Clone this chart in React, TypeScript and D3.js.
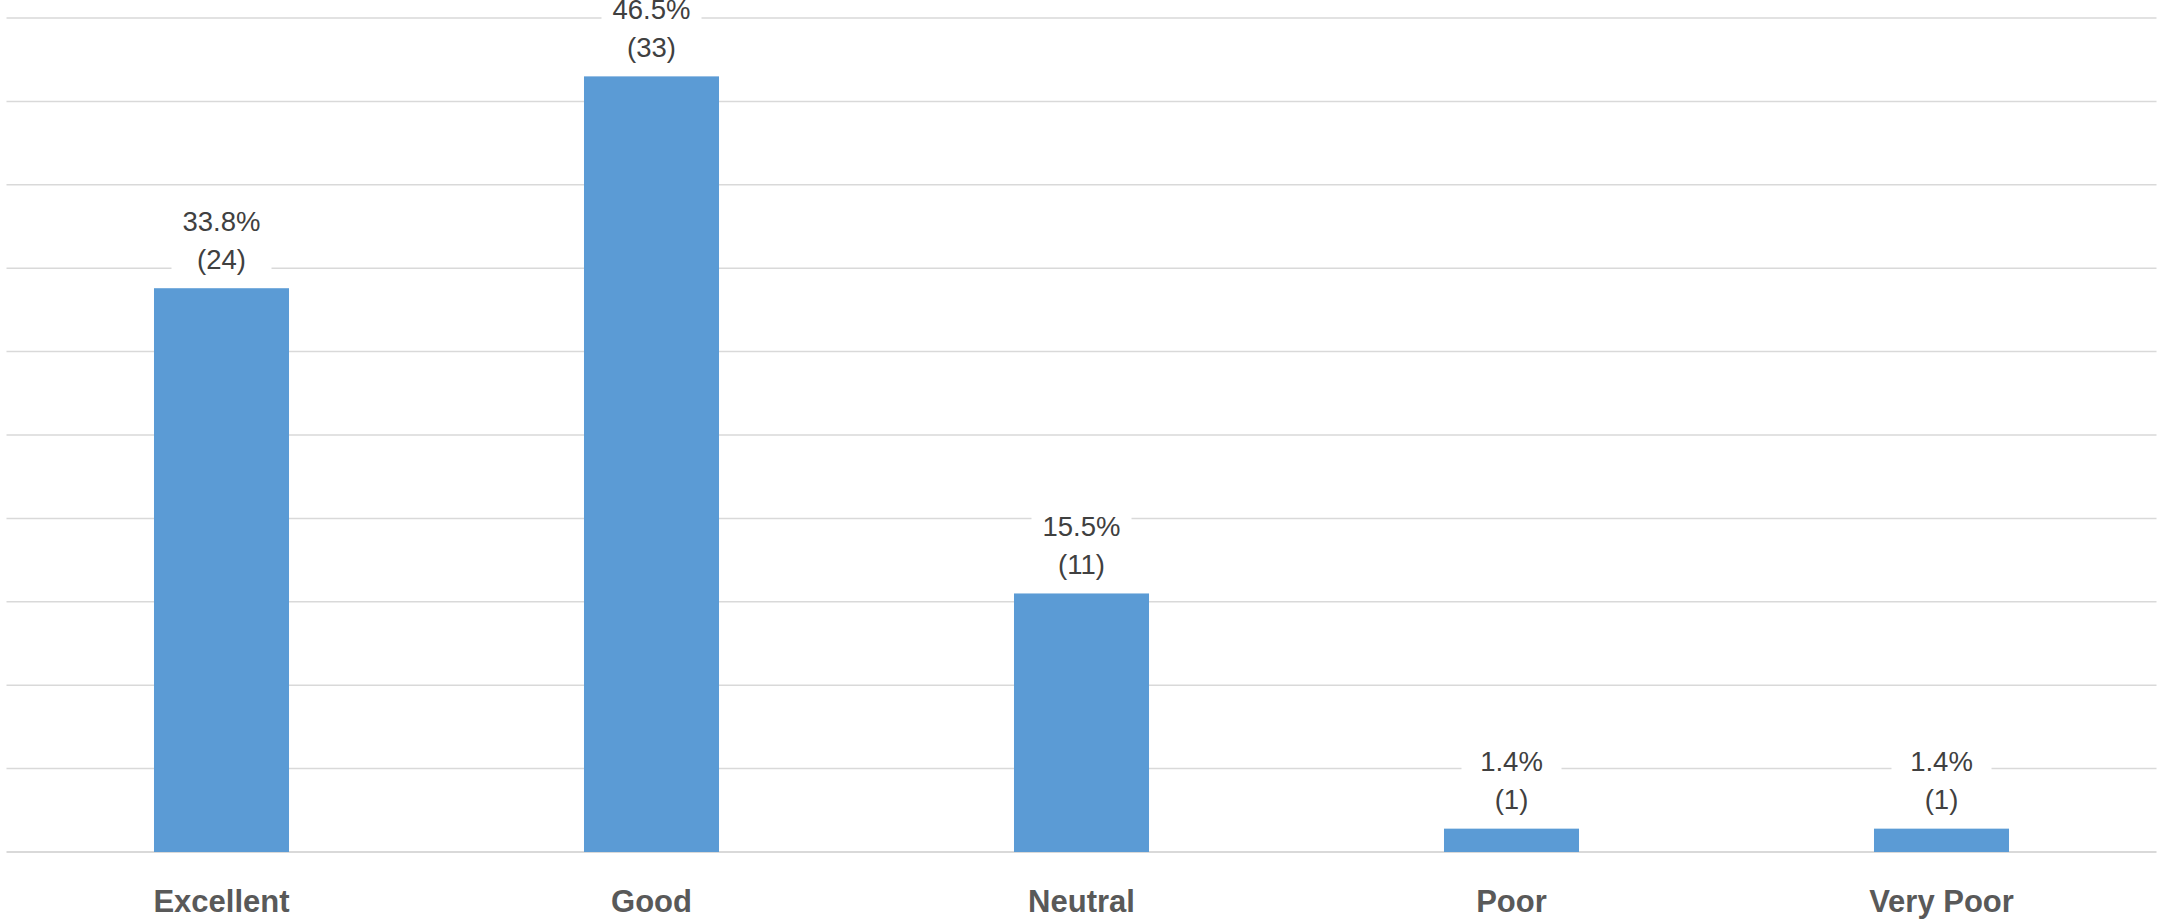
import React, { useEffect } from "react";
import * as d3 from "d3";

const categories = ["Excellent", "Good", "Neutral", "Poor", "Very Poor"];
const percents = [33.8, 46.5, 15.5, 1.4, 1.4];
const counts = [24, 33, 11, 1, 1];
const gridTicks = [0, 5, 10, 15, 20, 25, 30, 35, 40, 45, 50];

const W = 2158;
const H = 922;
const left = 6.5;
const right = 2156.5;
const top = 18;
const bottom = 852;

export default function App() {
  useEffect(() => {
    document.body.style.margin = "0";
  }, []);

  const x = d3
    .scaleBand<string>()
    .domain(categories)
    .range([left, right])
    .paddingInner(0.686)
    .paddingOuter(0.343);
  const y = d3.scaleLinear().domain([0, 50]).range([bottom, top]);
  const bw = x.bandwidth();
  const font = "'Liberation Sans', Arial, sans-serif";

  return (
    <svg width={W} height={H} style={{ display: "block", background: "#fff" }}>
      {gridTicks.map((t) => (
        <line
          key={t}
          x1={left}
          x2={right}
          y1={y(t)}
          y2={y(t)}
          stroke="#d9d9d9"
          strokeWidth={t === 0 ? 2 : 1.5}
        />
      ))}
      {categories.map((c, i) => {
        const cx = (x(c) as number) + bw / 2;
        const yt = y(percents[i]);
        return (
          <g key={c}>
            <rect x={x(c)} y={yt} width={bw} height={bottom - yt} fill="#5b9bd5" />
            <rect x={cx - 50} y={yt - 90} width={100} height={80} fill="#fff" />
            <text
              x={cx}
              y={yt - 67}
              textAnchor="middle"
              dominantBaseline="central"
              fontFamily={font}
              fontSize={27.5}
              fill="#404040"
            >
              {percents[i].toFixed(1)}%
            </text>
            <text
              x={cx}
              y={yt - 29}
              textAnchor="middle"
              dominantBaseline="central"
              fontFamily={font}
              fontSize={27.5}
              fill="#404040"
            >
              ({counts[i]})
            </text>
            <text
              x={cx}
              y={901}
              textAnchor="middle"
              dominantBaseline="central"
              fontFamily={font}
              fontSize={31}
              fontWeight="bold"
              fill="#595959"
            >
              {c}
            </text>
          </g>
        );
      })}
    </svg>
  );
}
